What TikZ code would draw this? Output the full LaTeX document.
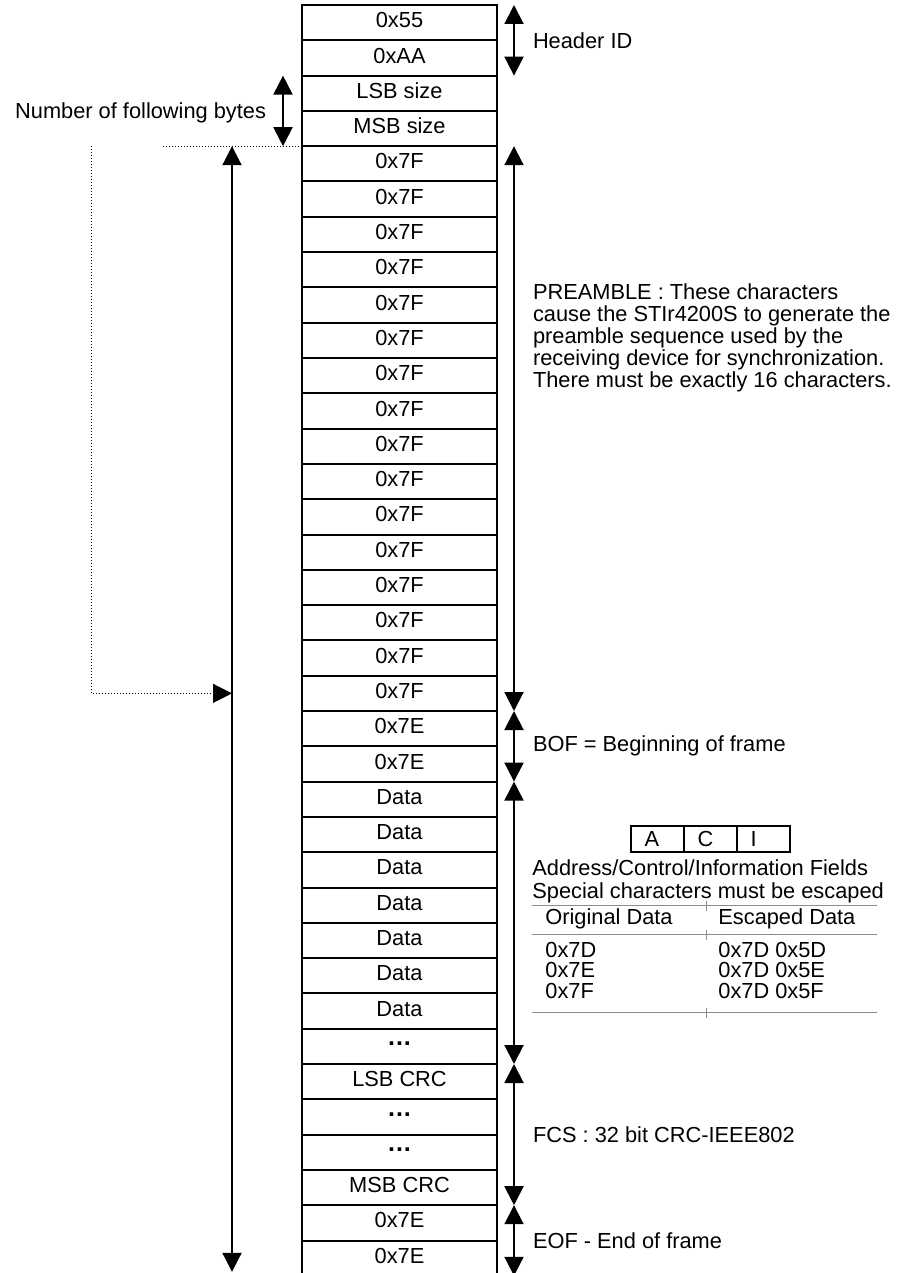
\documentclass[tikz,border=0pt]{standalone}
\usepackage{fontspec}
\setmainfont{Liberation Sans}
\usetikzlibrary{arrows.meta,positioning}
\newcommand\framefont{\fontsize{10.9pt}{11pt}\selectfont}
\newcommand\gapdots{{\fontsize{12.5pt}{12.5pt}\selectfont\bfseries.\kern0.5pt.\kern0.5pt.}}
\tikzset{
  cell/.style={rectangle, draw, line width=1pt, minimum width=97.5pt,
               minimum height=17.65pt, inner sep=0pt, outer sep=0pt,
               text depth=2.5pt, font=\framefont},
  acicell/.style={rectangle, draw, line width=0.6pt, minimum height=13pt,
                  text width=13pt, inner xsep=6.75pt, inner ysep=0pt,
                  outer sep=0pt, align=left, font=\framefont},
  txt/.style={anchor=west, inner sep=0pt, font=\framefont},
  span/.style={<->, line width=1pt},
  lbl/.style={midway, anchor=west, inner sep=0pt, xshift=9pt, font=\framefont},
  dotline/.style={densely dotted, line width=0.5pt, draw=black},
  rule/.style={line width=0.5pt, draw=black!45}
}
\begin{document}
\begin{tikzpicture}[x=0.5pt, y=-0.5pt,
    >={Triangle[width=9.5pt,length=9.5pt]}]
  \clip (0,0) rectangle (900,1273);

  % frame bytes
  \foreach \lab [count=\k from 0] in {0x55,0xAA,LSB size,MSB size,
      0x7F,0x7F,0x7F,0x7F,0x7F,0x7F,0x7F,0x7F,
      0x7F,0x7F,0x7F,0x7F,0x7F,0x7F,0x7F,0x7F,
      0x7E,0x7E,Data,Data,Data,Data,Data,Data,Data,\gapdots,
      LSB CRC,\gapdots,\gapdots,MSB CRC,0x7E,0x7E}{
    \node[cell] (r\k) at (399.5, {22.65+35.3*\k}) {\lab};
  }

  % fields on the right
  \foreach \a/\b/\t in {0/1/Header ID, 20/21/BOF = Beginning of frame,
      22/29/{}, 30/33/FCS : 32 bit CRC-IEEE802, 34/35/EOF - End of frame}{
    \draw[span] ([xshift=8.5pt]r\a.north east) -- ([xshift=8.5pt]r\b.south east)
      node[lbl] {\t};
  }
  \draw[span] ([xshift=8.5pt]r4.north east) -- ([xshift=8.5pt]r19.south east)
    node[lbl, pos=0.34, align=left] {PREAMBLE : These characters\\
      cause the STIr4200S to generate the\\preamble sequence used by the\\
      receiving device for synchronization.\\There must be exactly 16 characters.};

  % size on the left
  \draw[span] ([xshift=-9.5pt]r2.north west) -- ([xshift=-9.5pt]r3.south west)
    node[midway, anchor=east, inner sep=0pt, xshift=-8pt, yshift=-1pt,
         font=\framefont] {Number of following bytes};
  \draw[span] ([xshift=-35pt]r4.north west) -- ([xshift=-35pt,yshift=2pt]r35.south west);
  \draw[dotline] ([xshift=-69.5pt]r3.south west) -- (r3.south west);
  \draw[dotline, ->] ([xshift=-105.5pt]r4.north west) |- ([xshift=-35pt]r19.west);

  % A/C/I fields and escape table
  \node[acicell] (fa) at (657.5,839) {A};
  \node[acicell, right=0pt of fa] (fc) {C};
  \node[acicell, right=0pt of fc] (fi) {I};
  \node[txt] (acf) at (532,868) {Address/Control/Information Fields};
  \node[txt] (spc) at (532,893) {Special characters must be escaped};
  \node[txt] (horig) at (545,919) {Original Data};
  \node[txt] (hesc) at (718,919) {Escaped Data};
  \foreach \o/\e [count=\i] in {0x7D/0x7D 0x5D, 0x7E/0x7D 0x5E, 0x7F/0x7D 0x5F}{
    \node[txt] (o\i) at (545, {929+20.5*\i}) {\o};
    \node[txt] (e\i) at (718, {929+20.5*\i}) {\e};
  }
  \foreach \yy in {905,934,1012}{
    \draw[rule] (532,\yy) -- (877,\yy);
    \draw[rule] (706,\yy-4) -- (706,\yy+6);
  }
\end{tikzpicture}
\end{document}
